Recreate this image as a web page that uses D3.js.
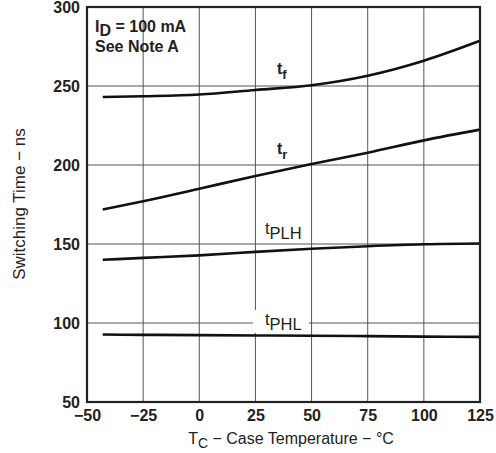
<!DOCTYPE html>
<html>
<head>
<meta charset="utf-8">
<script src="https://cdn.jsdelivr.net/npm/d3@7"></script>
<style>
  body { margin: 0; background: #fff; }
  svg { display: block; font-family: "Liberation Sans", Arial, sans-serif; }
</style>
</head>
<body>
<div id="chart"></div>
<script>
// datos
var temps = [-43, -25, 0, 25, 50, 75, 100, 125];
var tf    = [243, 243.5, 244.6, 247.5, 250.5, 256.5, 266, 278.6];
var tr    = [171.8, 177, 185, 193, 200.6, 207.8, 215.6, 222.4];
var tplh  = [140, 141.2, 142.8, 145, 147, 148.6, 149.8, 150.3];
var tphl  = [92.7, 92.5, 92.3, 92.1, 91.9, 91.7, 91.4, 91.2];

var xTicks = [-50, -25, 0, 25, 50, 75, 100, 125];
var yTicks = [50, 100, 150, 200, 250, 300];

var width = 496, height = 453;
var margin = {left: 87, right: 16, top: 7, bottom: 51};

var svg = d3.select("#chart").append("svg")
  .attr("width", width)
  .attr("height", height);

var x = d3.scaleLinear().domain([-50, 125]).range([margin.left, width - margin.right]);
var y = d3.scaleLinear().domain([50, 300]).range([height - margin.bottom, margin.top]);

// grid
svg.append("g").selectAll("line")
  .data(xTicks.slice(1, -1))
  .join("line")
  .attr("x1", d => x(d)).attr("x2", d => x(d))
  .attr("y1", y(50)).attr("y2", y(300))
  .attr("stroke", "#555").attr("stroke-width", 1);

svg.append("g").selectAll("line")
  .data(yTicks.slice(1, -1))
  .join("line")
  .attr("x1", x(-50)).attr("x2", x(125))
  .attr("y1", d => y(d)).attr("y2", d => y(d))
  .attr("stroke", "#555").attr("stroke-width", 1);

// etiquetas de curvas
function etiqueta(tx, ty, sub, bold, size, fondo) {
  var g = svg.append("g");
  var t = g.append("text")
    .attr("x", tx).attr("y", ty)
    .attr("font-size", bold ? 16 : 16.5)
    .attr("font-weight", bold ? "bold" : "normal")
    .attr("fill", "#222");
  t.append("tspan").text("t");
  t.append("tspan").attr("dy", 5).attr("font-size", size).text(sub);
  if (fondo) {
    var b = t.node().getBBox();
    g.insert("rect", "text")
      .attr("x", b.x - 12).attr("y", b.y)
      .attr("width", b.width + 19).attr("height", b.height)
      .attr("fill", "#fff");
  }
}
etiqueta(277, 74, "f", true, 13, false);
etiqueta(277, 154, "r", true, 13, false);
etiqueta(265, 234, "PLH", false, 16.5, false);
etiqueta(265, 325, "PHL", false, 16.5, true);

// curvas
var line = d3.line()
  .x((d, i) => x(temps[i]))
  .y(d => y(d))
  .curve(d3.curveMonotoneX);

[tf, tr, tplh, tphl].forEach(function(s) {
  svg.append("path")
    .datum(s)
    .attr("fill", "none")
    .attr("stroke", "#111")
    .attr("stroke-width", 2.6)
    .attr("d", line);
});

// marco
svg.append("rect")
  .attr("x", x(-50)).attr("y", y(300))
  .attr("width", x(125) - x(-50))
  .attr("height", y(50) - y(300))
  .attr("fill", "none")
  .attr("stroke", "#222")
  .attr("stroke-width", 2.2);

// ejes
var ejeX = d3.axisBottom(x).tickValues(xTicks).tickSize(0).tickPadding(8)
  .tickFormat(d => d < 0 ? "\u2212" + Math.abs(d) : d);
var gx = svg.append("g")
  .attr("transform", "translate(0," + y(50) + ")")
  .call(ejeX);
gx.select(".domain").remove();
gx.selectAll("text")
  .attr("font-family", "Liberation Sans, Arial, sans-serif")
  .attr("font-size", 16).attr("font-weight", "bold").attr("fill", "#222");

var ejeY = d3.axisLeft(y).tickValues(yTicks).tickSize(0).tickPadding(7);
var gy = svg.append("g")
  .attr("transform", "translate(" + x(-50) + ",0)")
  .call(ejeY);
gy.select(".domain").remove();
gy.selectAll("text")
  .attr("font-family", "Liberation Sans, Arial, sans-serif")
  .attr("font-size", 16).attr("font-weight", "bold").attr("fill", "#222");

// titulos
var xt = svg.append("text")
  .attr("x", 291).attr("y", 444)
  .attr("text-anchor", "middle")
  .attr("font-size", 16).attr("fill", "#222");
xt.append("tspan").text("T");
xt.append("tspan").attr("dy", 4).attr("font-size", 14).text("C");
xt.append("tspan").attr("dy", -4).text(" \u2212 Case Temperature \u2212 \u00B0C");

svg.append("text")
  .attr("transform", "translate(25,204) rotate(-90)")
  .attr("text-anchor", "middle")
  .attr("font-size", 17).attr("fill", "#222")
  .text("Switching Time \u2212 ns");

// anotacion
var a1 = svg.append("text")
  .attr("x", 95).attr("y", 32)
  .attr("font-size", 16).attr("font-weight", "bold").attr("fill", "#222");
a1.append("tspan").text("I");
a1.append("tspan").attr("dy", 4).text("D");
a1.append("tspan").attr("dy", -4).text(" = 100 mA");
svg.append("text")
  .attr("x", 95).attr("y", 52)
  .attr("font-size", 16).attr("font-weight", "bold").attr("fill", "#222")
  .text("See Note A");
</script>
</body>
</html>
